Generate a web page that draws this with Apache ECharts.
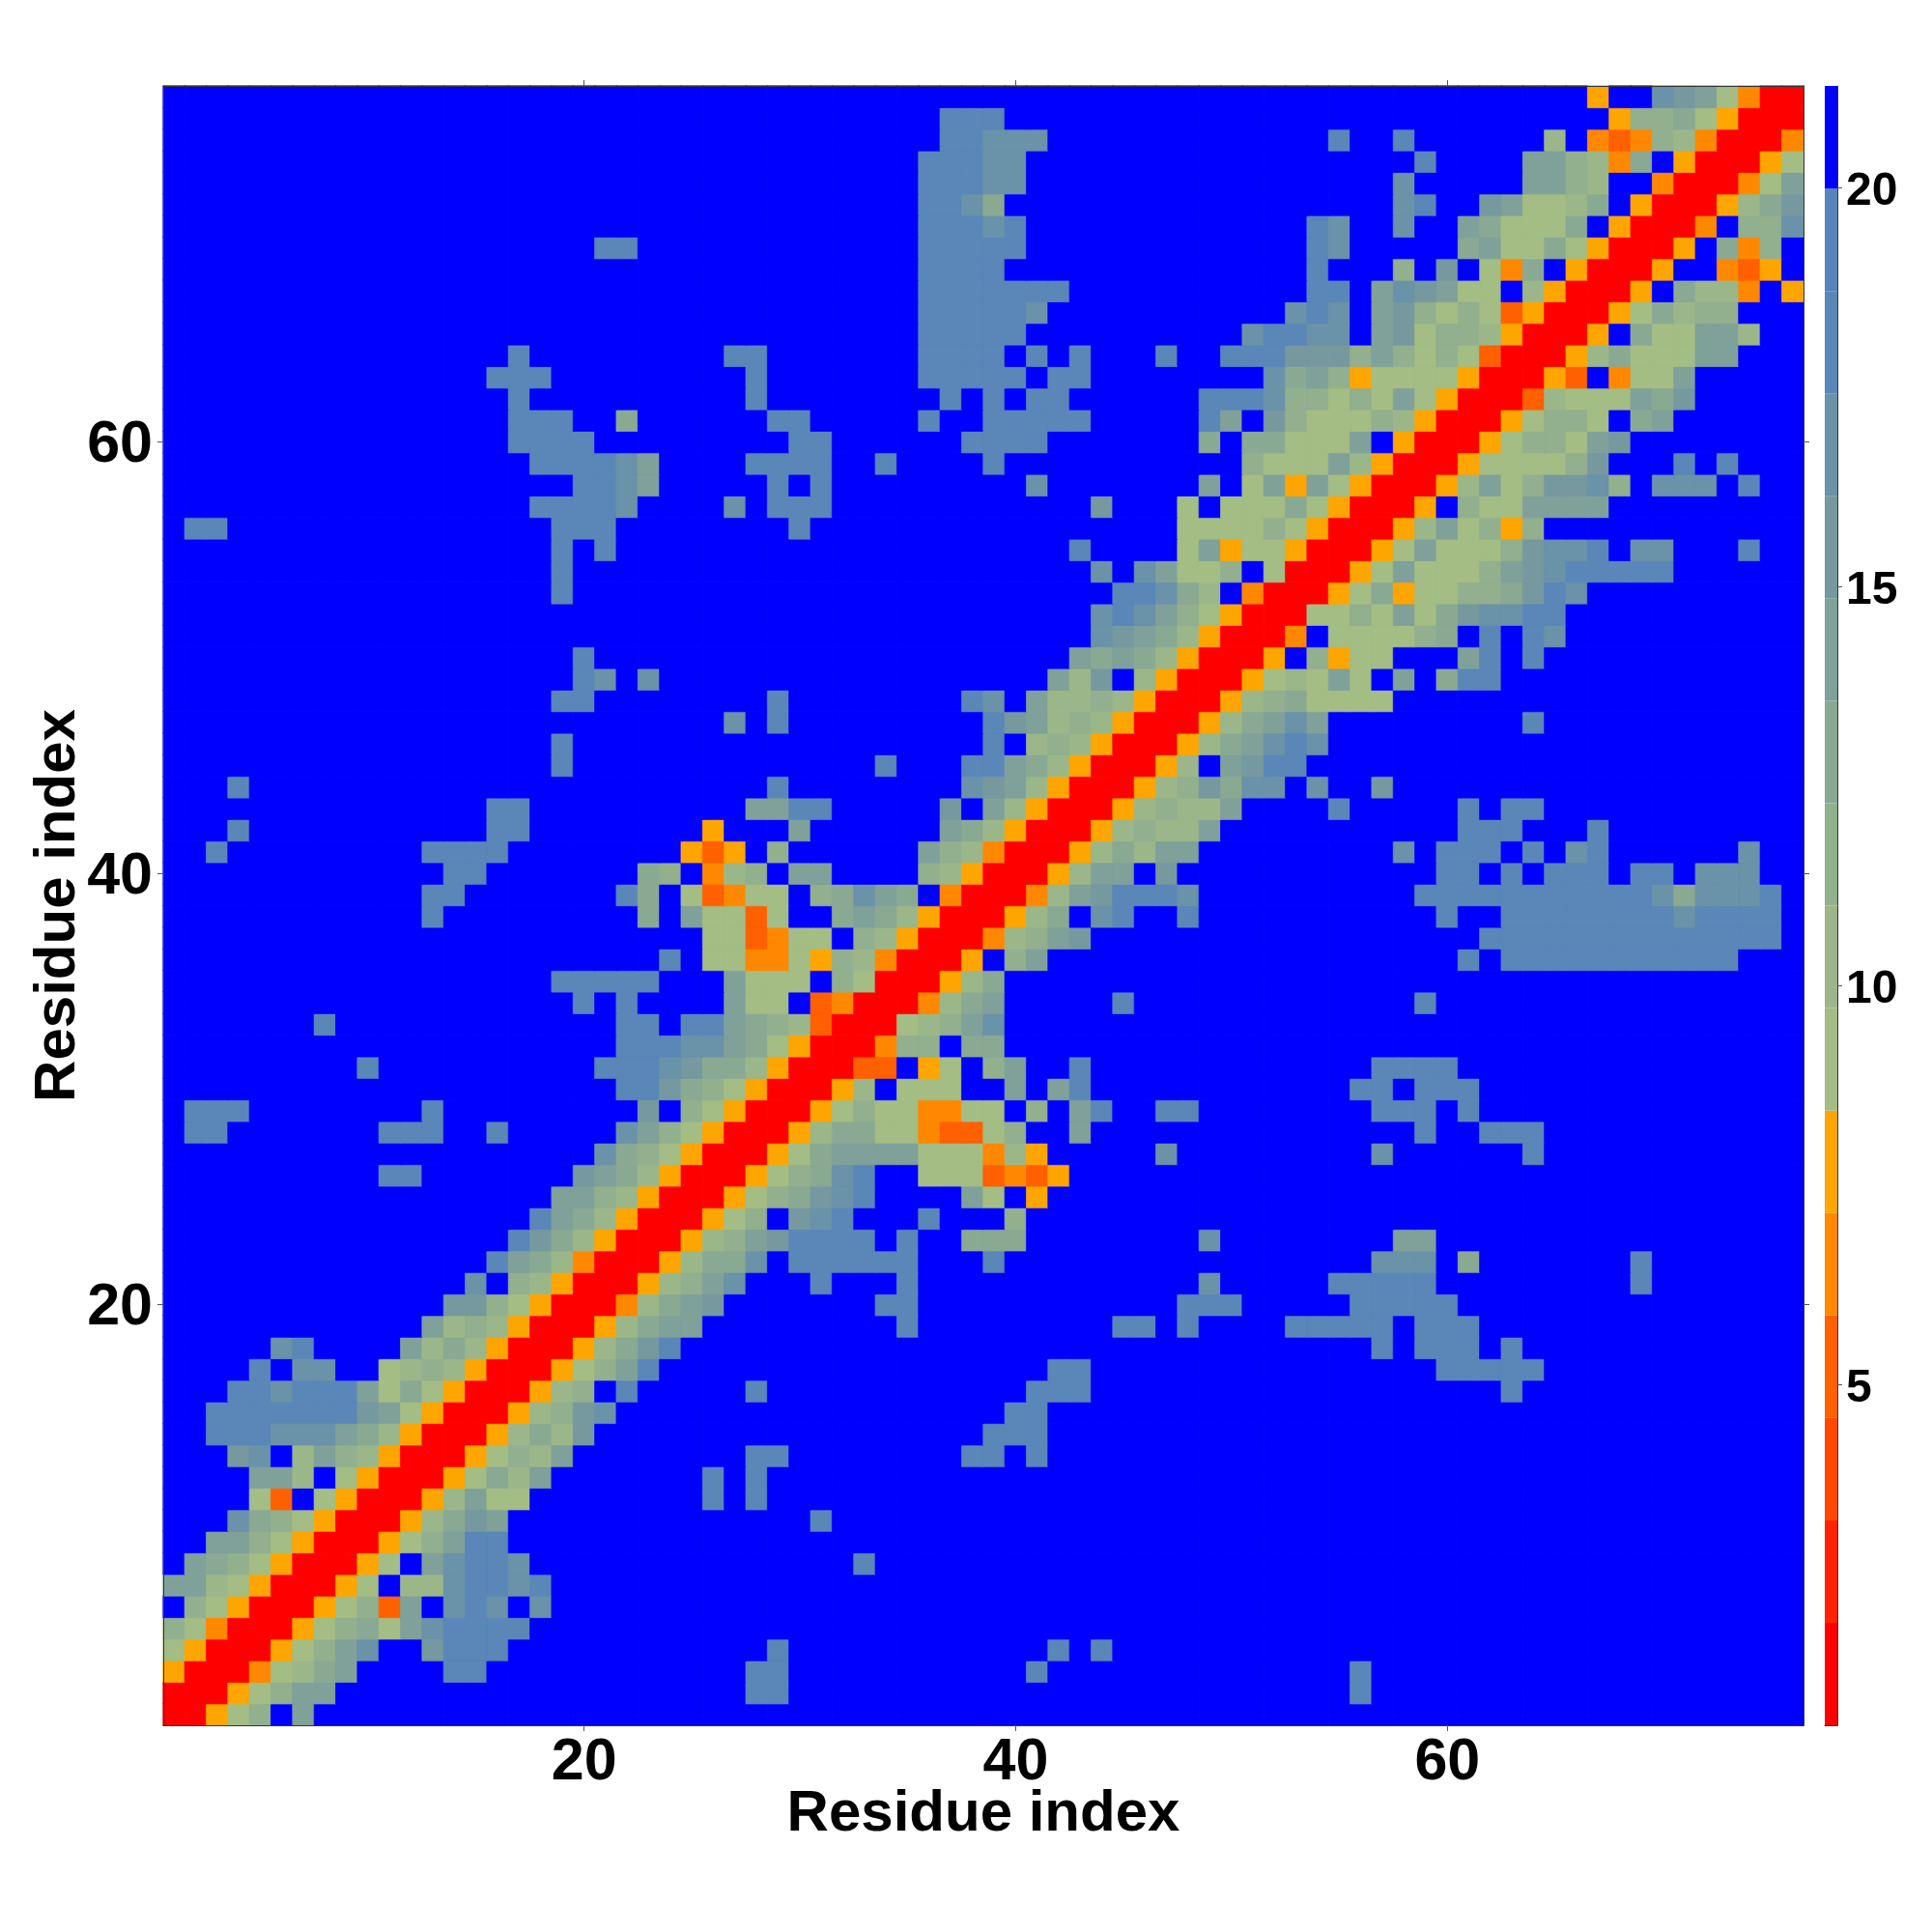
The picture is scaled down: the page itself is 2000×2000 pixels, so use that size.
<!DOCTYPE html>
<html>
<head>
<meta charset="utf-8">
<style>html,body{margin:0;padding:0;background:#fff}#chart{width:2000px;height:2000px}</style>
<script src="https://cdn.jsdelivr.net/npm/echarts@6/dist/echarts.min.js"></script>
</head>
<body>
<div id="chart"></div>
<script>
// Colour-bar levels (16 bands between distance 0.73 and 21.28)
const levelCodes = "0123456789abcdef";
const levelColors = ["#ff0000","#ff2400","#ff4800","#ff6000","#ff8800","#ffa500",
  "#a3bd84","#9bb789","#92af8e","#89a993","#7fa199","#76999f","#6a92a8","#5a87b8","#5884bb","#0000ff"];
const barMin = 0.73, barMax = 21.28;
const colorbarTicks = [5, 10, 15, 20];
const axisTickEvery = 20;
const residueCount = 76;

// Contact-map cells: [row residue, first column residue, band codes]
// Only the half with column >= row is listed, the map is symmetric. "." is the far (blue) band.
const contactRuns = [
[1,1,"00568.a"],
[2,2,"00568aa"],[2,28,"dd"],[2,56,"d"],
[3,3,"004679a"],[3,14,"dd"],[3,28,"dd"],[3,41,"d"],[3,56,"d"],
[4,4,"00568ac"],[4,13,"bddd"],[4,29,"d"],[4,42,"d"],[4,44,"d"],
[5,5,"0056896acdddd"],
[6,6,"005683a.cdc.c"],
[7,7,"0056.77cddcd"],
[8,8,"0056.acddc"],[8,33,"d"],
[9,9,"00568add"],
[10,10,"00579ba"],[10,31,"d"],
[11,11,"0057a66"],[11,26,"d"],[11,28,"d"],
[12,12,"005697a"],[12,26,"d"],[12,28,"d"],
[13,13,"005687a"],[13,28,"dd"],[13,38,"dd"],[13,41,"d"],
[14,14,"005797b"],[14,39,"ddd"],
[15,15,"00578bc"],[15,40,"dd"],
[16,16,"00578.d"],[16,28,"d"],[16,41,"ddd"],[16,63,"d"],
[17,17,"00568ad"],[17,42,"dd"],[17,60,"ddddd"],
[18,18,"00579bd"],[18,57,"d"],[18,59,"ddd"],[18,63,"d"],
[19,19,"00579aa"],[19,35,"d"],[19,45,"dd"],[19,48,"d"],[19,53,"ddddd"],[19,59,"ddd"],
[20,20,"00479ab"],[20,34,"dd"],[20,48,"ddd"],[20,56,"ddddd"],
[21,21,"00578ac"],[21,31,"d"],[21,35,"d"],[21,49,"c"],[21,55,"ddddd"],[21,69,"d"],
[22,22,"005799c.dddddd"],[22,39,"d"],[22,57,"ccc"],[22,61,"9"],[22,69,"d"],
[23,23,"00578abdddd.d"],[23,38,"999"],[23,49,"c"],[23,58,"aa"],
[24,24,"00568.bcd"],[24,36,"d"],[24,40,"8"],
[25,25,"005689bcd"],[25,38,"a6.5"],
[26,26,"005689cd..6663435"],
[27,27,"00569aaaa666475"],[27,47,"c"],[27,57,"c"],[27,64,"d"],
[28,28,"0057996643368"],[28,43,"a"],[28,59,"d"],[28,62,"ddd"],
[29,29,"00568664466.8.ad"],[29,47,"dd"],[29,57,"ddd"],[29,61,"d"],
[30,30,"0057.666..a.ad"],[30,56,"dd"],[30,59,"ddd"],
[31,31,"0033.56.8a..d"],[31,57,"dddd"],
[32,32,"00488.99"],
[33,33,"00678ac"],
[34,34,"00479a"],[34,45,"d"],[34,59,"d"],
[35,35,"00579"],
[36,36,"005.8a"],[36,61,"d"],[36,63,"ddddddddddd"],
[37,37,"00478ab"],[37,62,"dddddddddddddd"],
[38,38,"00579.cd..d"],[38,60,"d"],[38,63,"ddddddddcdddd"],
[39,39,"0047abdddc"],[39,59,"dddddddddddc9cccd"],
[40,40,"0057aa.b"],[40,60,"dd"],[40,63,"d"],[40,65,"ddd"],[40,69,"dd"],[40,72,"ccc"],
[41,41,"005797aa"],[41,58,"c"],[41,60,"ddd"],[41,64,"d"],[41,66,"cd"],[41,74,"c"],
[42,42,"0057877a"],[42,61,"ddd"],[42,67,"d"],
[43,43,"0057877a"],[43,55,"d"],[43,61,"d"],[43,63,"dd"],
[44,44,"00578b9cc.c..b"],
[45,45,"0057.abdd"],
[46,46,"00579acdc"],
[47,47,"00579aca"],[47,64,"d"],
[48,48,"0057896666"],
[49,49,"005676a6.a.9dd"],
[50,50,"005.8566...ad.d"],
[51,51,"004.666689.d.dc"],
[52,52,"006686a69bccdd"],
[53,53,"00569566889bdc"],
[54,54,"0056a6668abcddddd"],
[55,55,"0056a6668bccd.cc"],[55,74,"d"],
[56,56,"0057a6858"],
[57,57,"005.866aaaa"],
[58,58,"0057a68bbc8.ccc.d"],
[59,59,"00566668b...d.d"],
[60,60,"0056886ab"],
[61,61,"0056886.9a"],
[62,62,"0037666a9b"],
[63,63,"0053.466a"],
[64,64,"00579666aa"],
[65,65,"005.966aa7"],
[66,66,"00569788"],
[67,67,"005.9774.5"],
[68,68,"005..435"],
[69,69,"005.948"],
[70,70,"004.88c"],
[71,71,"00579b"],
[72,72,"0046a"],
[73,73,"0056"],
[74,74,"004"],
[75,75,"00"],
[76,76,"0"]
];

const bandWidth = (barMax - barMin) / levelCodes.length;
const bandValue = i => barMin + (i + 0.5) * bandWidth;
const residues = Array.from({length: residueCount}, (_, i) => String(i + 1));

// Fill the whole matrix with the far band, then apply the listed runs and mirror them.
const matrix = residues.map(() => residues.map(() => levelCodes.length - 1));
contactRuns.forEach(([row, col, codes]) => {
  [...codes].forEach((c, k) => {
    const lvl = c === "." ? levelCodes.length - 1 : levelCodes.indexOf(c);
    matrix[row - 1][col - 1 + k] = lvl;
    matrix[col - 1 + k][row - 1] = lvl;
  });
});
// The same-coloured hairline border closes the anti-aliased seams between neighbouring cells.
const cells = [];
matrix.forEach((r, y) => r.forEach((lvl, x) => cells.push({
  value: [x, y, bandValue(lvl)],
  itemStyle: {borderColor: levelColors[lvl], borderWidth: 0.7}
})));

const pieces = levelColors.map((color, i) => ({
  gte: barMin + i * bandWidth, lt: barMin + (i + 1) * bandWidth, color
}));
const barBands = levelColors.map((_, i) => [0, barMin + i * bandWidth, barMin + (i + 1) * bandWidth, i]);

const everyTwenty = (i, v) => Number(v) % axisTickEvery === 0;
const font = "'Liberation Sans', Arial, sans-serif";
const lineStyle = {color: '#333', width: 1};
const tick = {show: true, interval: everyTwenty, alignWithLabel: true, length: 6, lineStyle: {color: '#555', width: 1}};
const xLabel = {show: true, interval: everyTwenty, color: '#000', fontFamily: font, fontWeight: 'bold', fontSize: 61, margin: 9};
const yLabel = {show: true, interval: everyTwenty, color: '#000', fontFamily: font, fontWeight: 'bold', fontSize: 61, margin: 11, verticalAlign: 'top', lineHeight: 8};
const nameStyle = {color: '#000', fontFamily: font, fontWeight: 'bold', fontSize: 60};

const chart = echarts.init(document.getElementById('chart'), null, {renderer: 'canvas'});
chart.setOption({
  backgroundColor: '#fff',
  animation: false,
  grid: [
    {left: 169, top: 89, width: 1698, height: 1697},
    {left: 1889, top: 89, width: 13, height: 1697}
  ],
  visualMap: {type: 'piecewise', show: false, seriesIndex: 0, dimension: 2, pieces},
  xAxis: [
    {type: 'category', gridIndex: 0, position: 'bottom', data: residues, name: 'Residue index', nameLocation: 'middle',
     nameMoveOverlap: false, nameGap: 62, nameTextStyle: nameStyle, axisLine: {lineStyle}, axisTick: tick, axisLabel: xLabel, splitLine: {show: false}, z: 5},
    {type: 'category', gridIndex: 0, position: 'top', data: residues,
     axisLine: {lineStyle}, axisTick: tick, axisLabel: {show: false}, splitLine: {show: false}, z: 5},
    {type: 'category', gridIndex: 1, data: [''], axisLine: {lineStyle}, axisTick: {show: false}, axisLabel: {show: false}, z: 5}
  ],
  yAxis: [
    {type: 'category', gridIndex: 0, position: 'left', data: residues, name: 'Residue index', nameLocation: 'middle',
     nameMoveOverlap: false, nameGap: 79, nameRotate: 90, nameTextStyle: nameStyle, axisLine: {lineStyle}, axisTick: tick, axisLabel: yLabel, splitLine: {show: false}, z: 5},
    {type: 'category', gridIndex: 0, position: 'right', data: residues,
     axisLine: {lineStyle}, axisTick: tick, axisLabel: {show: false}, splitLine: {show: false}, z: 5},
    {type: 'value', gridIndex: 1, position: 'right', min: barMin, max: barMax,
     axisLine: {show: true, lineStyle},
     axisTick: {show: true, length: 5, customValues: colorbarTicks, lineStyle: {color: '#555', width: 1}},
     axisLabel: {show: true, customValues: colorbarTicks, color: '#000', fontFamily: font, fontWeight: 'bold', fontSize: 48, margin: 9, verticalAlign: 'top', lineHeight: 8},
     splitLine: {show: false}, z: 5}
  ],
  series: [
    {type: 'heatmap', xAxisIndex: 0, yAxisIndex: 0, data: cells, progressive: 0, emphasis: {disabled: true}},
    {type: 'custom', xAxisIndex: 2, yAxisIndex: 2, data: barBands, silent: true,
     encode: {x: 0, y: [1, 2]},
     renderItem(params, api) {
       const lo = api.coord([0, api.value(1)])[1];
       const hi = api.coord([0, api.value(2)])[1];
       return {type: 'rect',
         shape: {x: params.coordSys.x, y: hi, width: params.coordSys.width, height: lo - hi},
         style: {fill: levelColors[api.value(3)]}};
     }}
  ]
});
</script>
</body>
</html>
